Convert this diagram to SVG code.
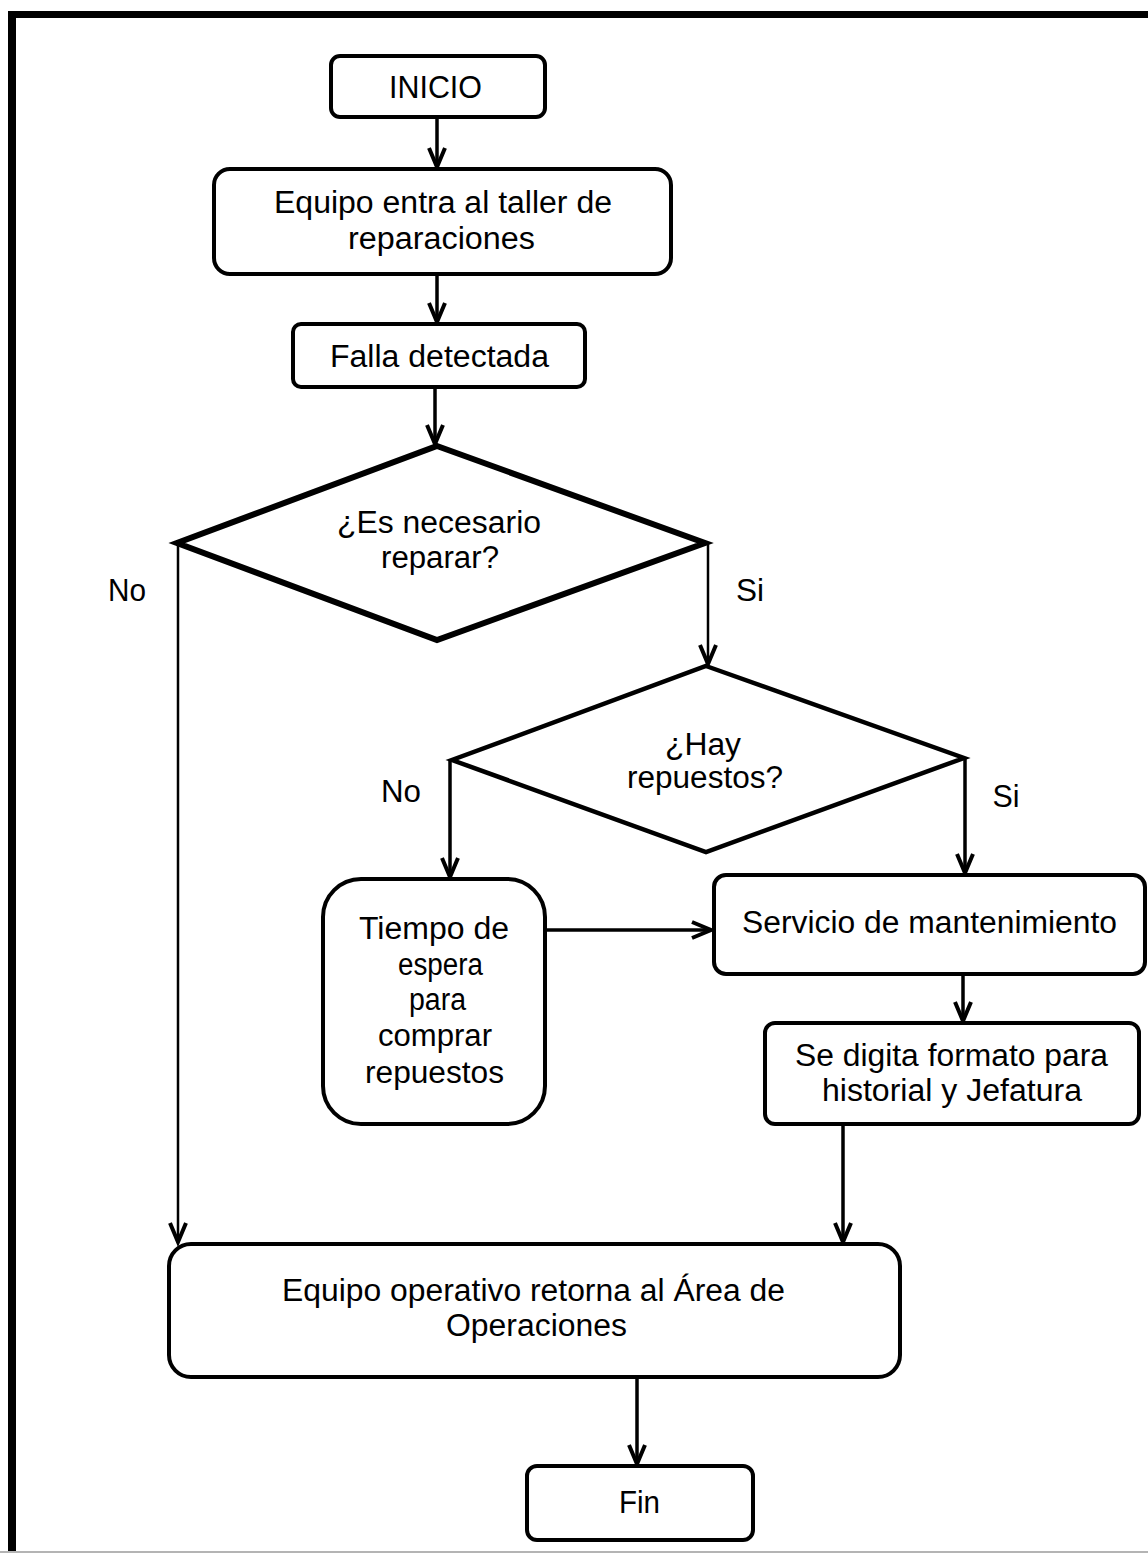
<svg xmlns="http://www.w3.org/2000/svg" width="1148" height="1553" viewBox="0 0 1148 1553">
  <style>
    .box { fill: #ffffff; stroke: #000000; stroke-width: 4; }
    .dec { fill: #ffffff; stroke: #000000; stroke-width: 6; stroke-linejoin: miter; }
    .lbl { font-family: "Liberation Sans", Arial, sans-serif; font-size: 31px; fill: #000000; text-anchor: middle; }
    .edge { fill: none; stroke: #000000; stroke-width: 3.5; marker-end: url(#arrow); }
    .edge-thin { fill: none; stroke: #000000; stroke-width: 2.5; marker-end: url(#arrow); }
  </style>
  <defs>
    <marker id="arrow" markerUnits="userSpaceOnUse" markerWidth="26" markerHeight="26" viewBox="-22 -13 26 26" refX="0" refY="0" orient="auto">
      <path d="M -19,-8 L 0,0 L -19,8" fill="none" stroke="#000000" stroke-width="4" stroke-linejoin="miter"/>
    </marker>
  </defs>

  <rect width="1148" height="1553" fill="#ffffff"/>

  <!-- outer frame -->
  <g id="frame">
    <line x1="8" y1="14.5" x2="1148" y2="14.5" stroke="#000000" stroke-width="7"/>
    <line x1="12" y1="11" x2="12" y2="1553" stroke="#000000" stroke-width="8"/>
    <line x1="0" y1="1552" x2="1148" y2="1552" stroke="#b4b4b4" stroke-width="2"/>
  </g>

  <!-- connectors -->
  <g id="connectors">
    <line class="edge" x1="437" y1="117" x2="437" y2="167"/>
    <line class="edge" x1="437" y1="275" x2="437" y2="322"/>
    <line class="edge" x1="435" y1="388" x2="435" y2="444"/>
    <line class="edge-thin" x1="178" y1="543" x2="178" y2="1242"/>
    <line class="edge-thin" x1="708" y1="543" x2="708" y2="664"/>
    <line class="edge" x1="450" y1="760" x2="450" y2="877"/>
    <line class="edge" x1="965" y1="757" x2="965" y2="873"/>
    <line class="edge" x1="546" y1="930" x2="711" y2="930"/>
    <line class="edge" x1="963" y1="975" x2="963" y2="1021"/>
    <line class="edge" x1="843" y1="1125" x2="843" y2="1242"/>
    <line class="edge" x1="637" y1="1378" x2="637" y2="1464"/>
    <text class="lbl" x="127" y="601" textLength="38" lengthAdjust="spacingAndGlyphs">No</text>
    <text class="lbl" x="750" y="601" textLength="28" lengthAdjust="spacingAndGlyphs">Si</text>
    <text class="lbl" x="401" y="802" textLength="40" lengthAdjust="spacingAndGlyphs">No</text>
    <text class="lbl" x="1006" y="807" textLength="27" lengthAdjust="spacingAndGlyphs">Si</text>
  </g>

  <g id="inicio">
    <rect class="box" x="331" y="56" width="214" height="61" rx="9"/>
    <text class="lbl" x="435.5" y="98" textLength="93" lengthAdjust="spacingAndGlyphs">INICIO</text>
  </g>

  <g id="entrada-taller">
    <rect class="box" x="214" y="169" width="457" height="105" rx="16"/>
    <text class="lbl" x="443" y="213" textLength="338" lengthAdjust="spacingAndGlyphs">Equipo entra al taller de</text>
    <text class="lbl" x="441.5" y="249" textLength="187" lengthAdjust="spacingAndGlyphs">reparaciones</text>
  </g>

  <g id="falla">
    <rect class="box" x="293" y="324" width="292" height="63" rx="8"/>
    <text class="lbl" x="439.5" y="367" textLength="219" lengthAdjust="spacingAndGlyphs">Falla detectada</text>
  </g>

  <g id="decision-reparar">
    <polygon class="dec" points="437,446 705,543 437,640 177,543"/>
    <text class="lbl" x="439" y="533" textLength="204" lengthAdjust="spacingAndGlyphs">¿Es necesario</text>
    <text class="lbl" x="440" y="568" textLength="118" lengthAdjust="spacingAndGlyphs">reparar?</text>
  </g>

  <g id="decision-repuestos">
    <polygon class="dec" points="706,666 964,758 706,852 452,760" style="stroke-width:4.5"/>
    <text class="lbl" x="703" y="755" textLength="76" lengthAdjust="spacingAndGlyphs">¿Hay</text>
    <text class="lbl" x="705" y="788" textLength="156" lengthAdjust="spacingAndGlyphs">repuestos?</text>
  </g>

  <g id="espera-repuestos">
    <rect class="box" x="323" y="879" width="222" height="245" rx="38"/>
    <text class="lbl" x="434" y="939" textLength="150" lengthAdjust="spacingAndGlyphs">Tiempo de</text>
    <text class="lbl" x="440.5" y="975" textLength="85" lengthAdjust="spacingAndGlyphs">espera</text>
    <text class="lbl" x="437.5" y="1010" textLength="57" lengthAdjust="spacingAndGlyphs">para</text>
    <text class="lbl" x="435" y="1046" textLength="114" lengthAdjust="spacingAndGlyphs">comprar</text>
    <text class="lbl" x="434.5" y="1083" textLength="139" lengthAdjust="spacingAndGlyphs">repuestos</text>
  </g>

  <g id="servicio">
    <rect class="box" x="714" y="875" width="431" height="99" rx="12"/>
    <text class="lbl" x="929.5" y="933" textLength="375" lengthAdjust="spacingAndGlyphs">Servicio de mantenimiento</text>
  </g>

  <g id="formato">
    <rect class="box" x="765" y="1023" width="374" height="101" rx="10"/>
    <text class="lbl" x="951.5" y="1066" textLength="313" lengthAdjust="spacingAndGlyphs">Se digita formato para</text>
    <text class="lbl" x="952" y="1101" textLength="260" lengthAdjust="spacingAndGlyphs">historial y Jefatura</text>
  </g>

  <g id="retorno">
    <rect class="box" x="169" y="1244" width="731" height="133" rx="22"/>
    <text class="lbl" x="533.5" y="1301" textLength="503" lengthAdjust="spacingAndGlyphs">Equipo operativo retorna al Área de</text>
    <text class="lbl" x="536.5" y="1336" textLength="181" lengthAdjust="spacingAndGlyphs">Operaciones</text>
  </g>

  <g id="fin">
    <rect class="box" x="527" y="1466" width="226" height="74" rx="10"/>
    <text class="lbl" x="639.5" y="1513" textLength="41" lengthAdjust="spacingAndGlyphs">Fin</text>
  </g>
</svg>
